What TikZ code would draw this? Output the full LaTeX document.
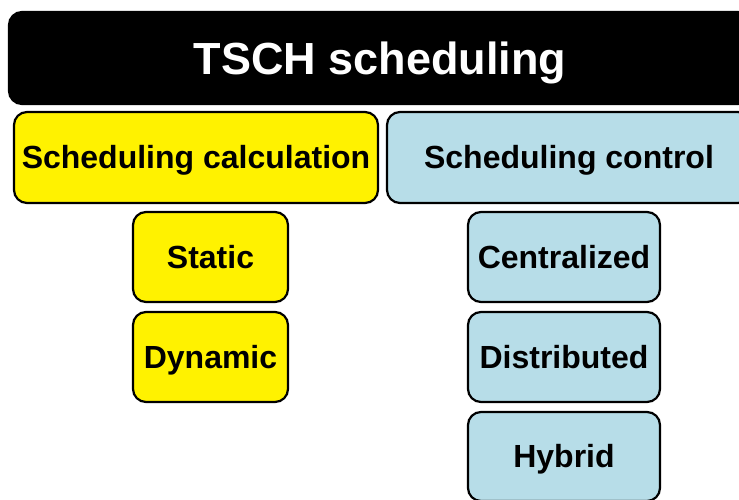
\documentclass[tikz,border=0pt]{standalone}
\usepackage{fontspec}
\setmainfont{Liberation Sans}
\begin{document}
\begin{tikzpicture}[x=1pt,y=-1pt,
  box/.style={draw=black, line width=2.2pt, rounded corners=13pt, inner sep=0pt,
    font=\fontsize{32}{36}\selectfont\bfseries, text=black,
    text height=22.9pt, text depth=0pt},
  ybox/.style={box, fill=yellow},
  bbox/.style={box, fill=lightblue}]
\definecolor{lightblue}{HTML}{B7DDE8}
\useasboundingbox (0,0) rectangle (739,500);
\clip (0,0) rectangle (739,500);
\node[box, fill=black, text=white, minimum width=742pt, minimum height=92pt,
  font=\fontsize{45}{50}\selectfont\bfseries, text height=32.2pt] (title) at (380,58) {TSCH scheduling};
\node[ybox, minimum width=364pt, minimum height=91pt] (calc) at (196,157.5) {Scheduling calculation};
\node[bbox, minimum width=364pt, minimum height=91pt] (ctrl) at (569,157.5) {Scheduling control};
\node[ybox, minimum width=155pt, minimum height=90pt] (static) at (210.5,257) {Static};
\node[ybox, minimum width=155pt, minimum height=90pt] (dynamic) at (210.5,357) {Dynamic};
\node[bbox, minimum width=192pt, minimum height=90pt] (central) at (564,257) {Centralized};
\node[bbox, minimum width=192pt, minimum height=90pt] (distrib) at (564,357) {Distributed};
\node[bbox, minimum width=192pt, minimum height=89pt] (hybrid) at (564,456.5) {Hybrid};
\end{tikzpicture}
\end{document}
